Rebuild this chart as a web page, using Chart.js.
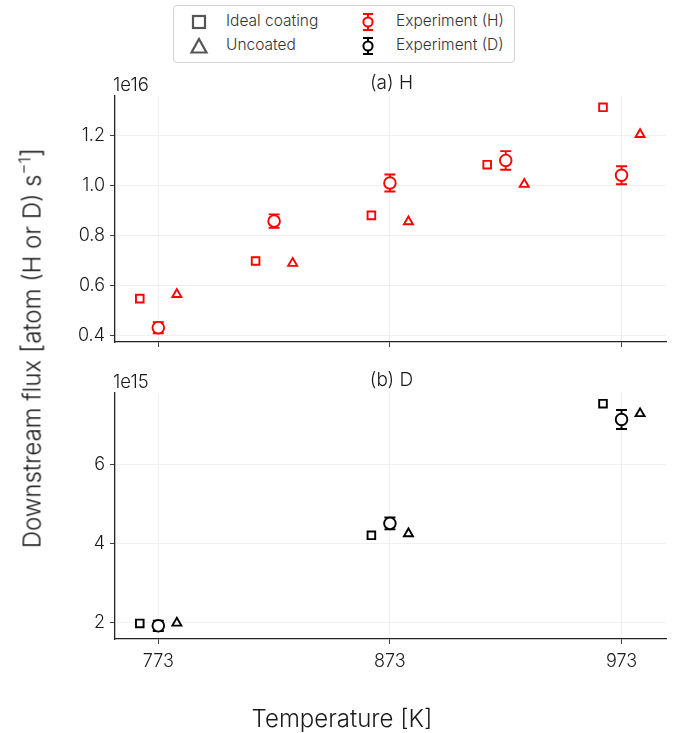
<!DOCTYPE html>
<html>
<head>
<meta charset="utf-8">
<script src="https://cdn.jsdelivr.net/npm/chart.js@4.4.1/dist/chart.umd.min.js"></script>
<style>
  html, body { margin: 0; padding: 0; background: #fff; }
  body { width: 684px; height: 733px; position: relative; overflow: hidden;
         font-family: Inter, "DejaVu Sans", sans-serif; font-weight: 350; color: #1a1a1a; }
  canvas { position: absolute; left: 0; }
  #chartH { top: 0; }
  #chartD { top: 360px; }
  .legend { position: absolute; left: 173px; top: 5px; width: 340px; height: 56px;
            border: 1px solid #d4d4d4; border-radius: 4px; background: #fff; }
  .item { position: absolute; font-size: 15.5px; line-height: 18px; color: #333; white-space: nowrap; }
  .mk { position: absolute; }
  .ylabel { position: absolute; left: 31px; top: 348px; transform: translate(-50%, -50%) rotate(-90deg);
            font-size: 24px; white-space: nowrap; color: #1a1a1a; }
  .ylabel .br { font-size: 27px; }
  .ylabel sup { font-size: 16.5px; vertical-align: 10px; }
  .xlabel { position: absolute; left: 342px; top: 718px; transform: translate(-50%, -50%);
            font-size: 24px; white-space: nowrap; color: #1a1a1a; }
</style>
</head>
<body>
<canvas id="chartH" width="684" height="360"></canvas>
<canvas id="chartD" width="684" height="373"></canvas>

<div class="legend">
  <svg class="mk" style="left:16px;top:7px" width="18" height="18" viewBox="0 0 18 18">
    <rect x="3" y="3" width="12" height="12" fill="none" stroke="#555" stroke-width="2.2"/></svg>
  <div class="item" style="left:52px;top:6px">Ideal coating</div>
  <svg class="mk" style="left:15px;top:30px" width="20" height="20" viewBox="0 0 20 20">
    <polygon points="10,3 17.5,16.5 2.5,16.5" fill="none" stroke="#555" stroke-width="2.2" stroke-linejoin="miter"/></svg>
  <div class="item" style="left:52px;top:30px">Uncoated</div>
  <svg class="mk" style="left:184px;top:5px" width="20" height="22" viewBox="0 0 20 22">
    <line x1="10" y1="3" x2="10" y2="19" stroke="#ff0000" stroke-width="2"/>
    <line x1="5" y1="3" x2="15" y2="3" stroke="#ff0000" stroke-width="2"/>
    <line x1="5" y1="19" x2="15" y2="19" stroke="#ff0000" stroke-width="2"/>
    <circle cx="10" cy="11" r="4.6" fill="#fff" stroke="#ff0000" stroke-width="2"/></svg>
  <div class="item" style="left:222px;top:6px">Experiment (H)</div>
  <svg class="mk" style="left:184px;top:29px" width="20" height="22" viewBox="0 0 20 22">
    <line x1="10" y1="3" x2="10" y2="19" stroke="#000" stroke-width="2"/>
    <line x1="5" y1="3" x2="15" y2="3" stroke="#000" stroke-width="2"/>
    <line x1="5" y1="19" x2="15" y2="19" stroke="#000" stroke-width="2"/>
    <circle cx="10" cy="11" r="4.6" fill="#fff" stroke="#000" stroke-width="2"/></svg>
  <div class="item" style="left:222px;top:30px">Experiment (D)</div>
</div>

<div class="ylabel">Downstream flux <span class="br">[</span>atom (H or D) s<sup>−1</sup><span class="br">]</span></div>
<div class="xlabel">Temperature [K]</div>

<script>
// ---- Data -------------------------------------------------------------
// Hydrogen (values in units of 1e16 atom/s)
const tempsH      = [773, 823, 873, 923, 973];
const idealH      = [0.549, 0.699, 0.881, 1.083, 1.312];
const uncoatedH   = [0.566, 0.690, 0.856, 1.005, 1.204];
const expH        = [0.433, 0.858, 1.010, 1.100, 1.041];
const expHErr     = [0.022, 0.027, 0.034, 0.037, 0.036];

// Deuterium (values in units of 1e15 atom/s)
const tempsD      = [773, 873, 973];
const idealD      = [1.98, 4.21, 7.54];
const uncoatedD   = [1.99, 4.25, 7.29];
const expD        = [1.92, 4.51, 7.14];
const expDErr     = [0.13, 0.15, 0.24];

// Axis ticks
const xTicks  = [773, 873, 973];
const yTicksH = [0.4, 0.6, 0.8, 1.0, 1.2];
const yTicksD = [2, 4, 6];

// ---- Styling ----------------------------------------------------------
const MODEL_SHIFT = 8;          // model points drawn beside the experiment (K)
const RED = '#ff0000', BLACK = '#000000';
const FAMILY = 'Inter, "DejaVu Sans", sans-serif';
const FONT = { family: FAMILY, size: 18, weight: '350' };
const CAP = 5.5;

const pts = (xs, ys, dx) => xs.map((x, i) => ({ x: x + dx, y: ys[i] }));

function seriesSet(temps, ideal, unc, exp, err, color) {
  return [
    { label: 'Ideal coating', data: pts(temps, ideal, -MODEL_SHIFT), pointStyle: 'rect',
      pointRadius: 5.4, borderColor: color, backgroundColor: 'rgba(0,0,0,0)', pointBorderWidth: 1.9,
      showLine: false },
    { label: 'Uncoated', data: pts(temps, unc, MODEL_SHIFT), pointStyle: 'triangle',
      pointRadius: 5.2, borderColor: color, backgroundColor: 'rgba(0,0,0,0)', pointBorderWidth: 1.9,
      showLine: false },
    { label: 'Experiment', data: pts(temps, exp, 0), errors: err, pointStyle: 'circle',
      pointRadius: 5.8, borderColor: color, backgroundColor: '#ffffff', pointBorderWidth: 1.9,
      showLine: false }
  ];
}

// vertical error bars with caps, drawn under the markers
const errorBars = {
  id: 'errorBars',
  beforeDatasetsDraw(chart) {
    const { ctx } = chart;
    const xs = chart.scales.x, ys = chart.scales.y;
    chart.data.datasets.forEach(ds => {
      if (!ds.errors) return;
      ctx.save();
      ctx.strokeStyle = ds.borderColor;
      ctx.lineWidth = 1.9;
      ds.data.forEach((p, j) => {
        const x = xs.getPixelForValue(p.x);
        const yLo = ys.getPixelForValue(p.y - ds.errors[j]);
        const yHi = ys.getPixelForValue(p.y + ds.errors[j]);
        ctx.beginPath();
        ctx.moveTo(x, yLo); ctx.lineTo(x, yHi);
        ctx.moveTo(x - CAP, yLo); ctx.lineTo(x + CAP, yLo);
        ctx.moveTo(x - CAP, yHi); ctx.lineTo(x + CAP, yHi);
        ctx.stroke();
      });
      ctx.restore();
    });
  }
};

// panel title and exponent text above each plot
const panelText = {
  id: 'panelText',
  afterDraw(chart, args, opts) {
    const { ctx, chartArea } = chart;
    ctx.save();
    ctx.fillStyle = '#1a1a1a';
    ctx.textBaseline = 'middle';
    ctx.textAlign = 'left';
    ctx.font = '350 18.5px ' + FAMILY;
    ctx.fillText(opts.offset, chartArea.left - 2, chartArea.top - 11);
    ctx.textAlign = 'center';
    ctx.font = '350 19px ' + FAMILY;
    ctx.fillText(opts.title, (chartArea.left + chartArea.right) / 2 + 1, chartArea.top - 13);
    ctx.restore();
  }
};

function makeChart(id, datasets, yMin, yMax, yTicks, fmt, showX, padTop, xHeight, title, offset) {
  return new Chart(document.getElementById(id), {
    type: 'scatter',
    data: { datasets },
    plugins: [errorBars, panelText],
    options: {
      responsive: false, animation: false, devicePixelRatio: 1, events: [],
      layout: { padding: { top: padTop, right: 18, bottom: 0, left: 0 } },
      plugins: { legend: { display: false }, tooltip: { enabled: false },
                 panelText: { title, offset } },
      scales: {
        x: {
          type: 'linear', min: 754.3, max: 992.2,
          afterBuildTicks: s => { s.ticks = xTicks.map(v => ({ value: v })); },
          afterFit: s => { s.height = xHeight; },
          ticks: { display: showX, font: FONT, color: '#1a1a1a', padding: 7,
                   callback: v => String(v), maxRotation: 0 },
          grid: { color: '#f0f0f0', tickColor: '#444', tickLength: 5, lineWidth: 1 },
          border: { color: '#222', width: 1.3 }
        },
        y: {
          min: yMin, max: yMax,
          afterBuildTicks: s => { s.ticks = yTicks.map(v => ({ value: v })); },
          afterFit: s => { s.width = 115; },
          ticks: { font: FONT, color: '#1a1a1a', padding: 5, callback: fmt },
          grid: { color: '#f0f0f0', tickColor: '#444', tickLength: 5, lineWidth: 1 },
          border: { color: '#222', width: 1.3 }
        }
      }
    }
  });
}

makeChart('chartH', seriesSet(tempsH, idealH, uncoatedH, expH, expHErr, RED),
          0.376, 1.357, yTicksH, v => v.toFixed(1), false, 96, 18, '(a) H', '1e16');
makeChart('chartD', seriesSet(tempsD, idealD, uncoatedD, expD, expDErr, BLACK),
          1.586, 7.81, yTicksD, v => String(v), true, 33, 94, '(b) D', '1e15');
</script>
</body>
</html>
